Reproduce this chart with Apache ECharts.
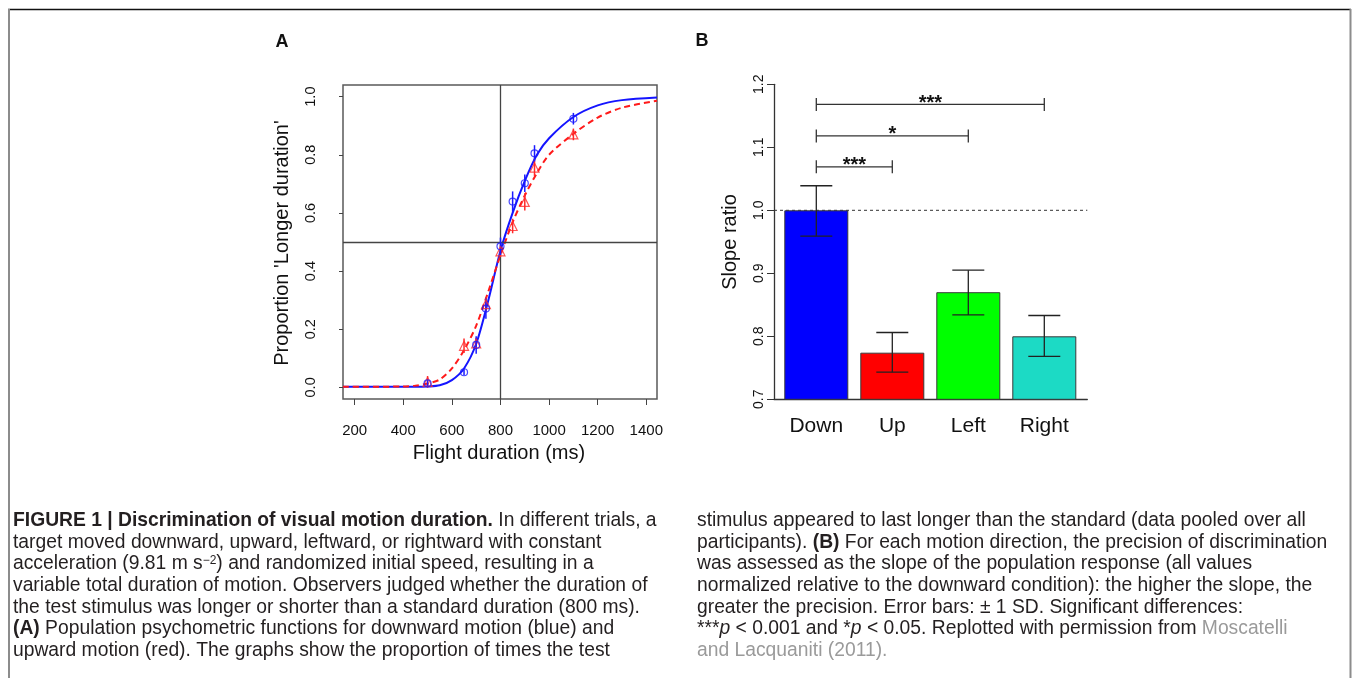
<!DOCTYPE html>
<html>
<head>
<meta charset="utf-8">
<title>Figure 1</title>
<script src="https://cdn.jsdelivr.net/npm/echarts@6.0.0/dist/echarts.min.js"></script>
<style>
  html, body { margin: 0; padding: 0; background: #fff; }
  #fig { width: 1352px; height: 678px; }
</style>
</head>
<body>
<div id="fig"></div>
<script>
// ---- panel A data ----
var durations = [500, 650, 700, 740, 800, 850, 900, 940, 1100];
var downProp = [0.014, 0.052, 0.146, 0.271, 0.485, 0.639, 0.702, 0.805, 0.924];
var downErr = [0.01, 0.01, 0.03, 0.035, 0.03, 0.035, 0.03, 0.028, 0.02];
var upProp = [0.019, 0.143, 0.151, 0.286, 0.468, 0.555, 0.638, 0.756, 0.870];
var upErr = [0.02, 0.025, 0.02, 0.025, 0.02, 0.025, 0.03, 0.03, 0.02];

// fitted curves
var fitX = [152, 400, 450, 500, 550, 600, 650, 700, 750, 800, 850, 900, 950, 1000, 1100, 1200, 1300, 1444];
var downFit = [0.002, 0.002, 0.002, 0.003, 0.007, 0.025, 0.065, 0.15, 0.30, 0.47, 0.60, 0.71, 0.80, 0.857, 0.930, 0.970, 0.988, 0.997];
var upFit = [0.002, 0.003, 0.006, 0.013, 0.027, 0.065, 0.128, 0.212, 0.33, 0.455, 0.568, 0.66, 0.737, 0.80, 0.872, 0.928, 0.962, 0.986];

var xTicksA = [200, 400, 600, 800, 1000, 1200, 1400];
var yTicksA = [0, 0.2, 0.4, 0.6, 0.8, 1.0];

// ---- panel B data ----
var directions = ['Down', 'Up', 'Left', 'Right'];
var slopeRatio = [1.0, 0.774, 0.870, 0.800];
var slopeLow = [0.959, 0.743, 0.834, 0.768];
var slopeHigh = [1.039, 0.806, 0.905, 0.833];
var barColors = ['#0000ff', '#ff0000', '#00ff00', '#1cdac5'];
// [from, to, y, label]
var signif = [[0, 1, 1.069, '***'], [0, 2, 1.118, '*'], [0, 3, 1.168, '***']];

var FONT = 'Liberation Sans, Arial, Helvetica, sans-serif';
var CAP_FONT = 'Liberation Sans, Arial, Helvetica, sans-serif';
var CAP_SIZE = 19.3;

var capLeft = [
  '{b|FIGURE 1 | Discrimination of visual motion duration.} In different trials, a',
  'target moved downward, upward, leftward, or rightward with constant',
  'acceleration (9.81 m s{sup|\u22122}) and randomized initial speed, resulting in a',
  'variable total duration of motion. Observers judged whether the duration of',
  'the test stimulus was longer or shorter than a standard duration (800 ms).',
  '{b|(A)} Population psychometric functions for downward motion (blue) and',
  'upward motion (red). The graphs show the proportion of times the test'
];
var capRight = [
  'stimulus appeared to last longer than the standard (data pooled over all',
  'participants). {b|(B)} For each motion direction, the precision of discrimination',
  'was assessed as the slope of the population response (all values',
  'normalized relative to the downward condition): the higher the slope, the',
  'greater the precision. Error bars: \u00b1 1 SD. Significant differences:',
  '***{i|p} < 0.001 and *{i|p} < 0.05. Replotted with permission from {g|Moscatelli}',
  '{g|and Lacquaniti (2011).}'
];
var capY = [521, 543, 564, 586, 608, 629, 651];

var myChart = echarts.init(document.getElementById('fig'));

function pointErr(xs, ys, es) {
  return xs.map(function (x, i) { return [x, ys[i] - es[i], ys[i] + es[i]]; });
}
function zip(xs, ys) {
  return xs.map(function (x, i) { return [x, ys[i]]; });
}

function vErrA(color) {
  return function (params, api) {
    var a = api.coord([api.value(0), api.value(1)]);
    var b = api.coord([api.value(0), api.value(2)]);
    return {
      type: 'line',
      shape: { x1: a[0], y1: a[1], x2: b[0], y2: b[1] },
      style: { stroke: color, lineWidth: 1.5 }
    };
  };
}

var captionEls = [];
function capStyle(text) {
  return {
    text: text,
    fill: '#231f20',
    fontSize: CAP_SIZE,
    fontFamily: CAP_FONT,
    verticalAlign: 'middle',
    rich: {
      b: { fontWeight: 'bold', fontSize: CAP_SIZE, fontFamily: CAP_FONT, fill: '#231f20' },
      i: { fontStyle: 'italic', fontSize: CAP_SIZE, fontFamily: CAP_FONT, fill: '#231f20' },
      g: { fontSize: CAP_SIZE, fontFamily: CAP_FONT, fill: '#9a9a9a' },
      sup: { fontSize: 12, fontFamily: CAP_FONT, fill: '#231f20', verticalAlign: 'top' }
    }
  };
}
capLeft.forEach(function (t, i) {
  captionEls.push({ type: 'text', x: 13, y: capY[i], style: capStyle(t) });
});
capRight.forEach(function (t, i) {
  captionEls.push({ type: 'text', x: 697, y: capY[i], style: capStyle(t) });
});

var option = {
  animation: false,
  backgroundColor: '#fff',
  textStyle: { fontFamily: FONT },
  grid: [
    // A
    { left: 343, top: 85, width: 314, height: 314, show: true, borderColor: '#5a5a5a', borderWidth: 1.5 },
    // B frame (axes)
    { left: 774, top: 84.3, width: 313.3, height: 315 },
    // B bars
    { left: 778.3, top: 84.3, width: 304, height: 315 }
  ],
  xAxis: [
    {
      gridIndex: 0, type: 'value', min: 152, max: 1444,
      axisLine: { show: false, onZero: false },
      axisTick: { show: true, length: 6, customValues: xTicksA, lineStyle: { color: '#444' } },
      axisLabel: {
        customValues: xTicksA, margin: 24, fontSize: 15, color: '#111', fontFamily: FONT,
        formatter: function (v) { return String(v); }
      },
      splitLine: { show: false }
    },
    {
      gridIndex: 1, type: 'value', min: 0, max: 1,
      axisLine: { show: true, onZero: false, lineStyle: { color: '#333', width: 1.3 } },
      axisTick: { show: false }, axisLabel: { show: false }, splitLine: { show: false }
    },
    {
      gridIndex: 2, type: 'category', data: directions,
      axisLine: { show: false }, axisTick: { show: false },
      axisLabel: { margin: 16, fontSize: 21, color: '#111', fontFamily: FONT }
    }
  ],
  yAxis: [
    {
      gridIndex: 0, type: 'value', min: -0.04, max: 1.04,
      axisLine: { show: false, onZero: false },
      axisTick: { show: true, length: 4, customValues: yTicksA, lineStyle: { color: '#444' } },
      axisLabel: {
        customValues: yTicksA, rotate: 90, margin: 25, fontSize: 14.5, color: '#111', fontFamily: FONT,
        formatter: function (v) { return v.toFixed(1); }
      },
      splitLine: { show: false }
    },
    {
      gridIndex: 1, type: 'value', min: 0.7, max: 1.2, interval: 0.1,
      axisLine: { show: true, onZero: false, lineStyle: { color: '#333', width: 1.3 } },
      axisTick: { show: true, length: 7, lineStyle: { color: '#333' } },
      axisLabel: {
        rotate: 90, margin: 8, fontSize: 14, color: '#111', fontFamily: FONT,
        formatter: function (v) { return v.toFixed(1); }
      },
      splitLine: { show: false }
    },
    { gridIndex: 2, type: 'value', min: 0.7, max: 1.2, show: false }
  ],
  graphic: [
    // figure frame
    { type: 'line', shape: { x1: 8, y1: 9.5, x2: 1351, y2: 9.5 }, style: { stroke: '#111', lineWidth: 1.5 } },
    { type: 'line', shape: { x1: 9, y1: 9, x2: 9, y2: 678 }, style: { stroke: '#8c8c8c', lineWidth: 2 } },
    { type: 'line', shape: { x1: 1350.5, y1: 9, x2: 1350.5, y2: 678 }, style: { stroke: '#8c8c8c', lineWidth: 2 } },
    // panel letters
    { type: 'text', x: 282, y: 42, style: { text: 'A', fontSize: 18, fontWeight: 'bold', fontFamily: FONT, fill: '#111', align: 'center', verticalAlign: 'middle' } },
    { type: 'text', x: 702, y: 41, style: { text: 'B', fontSize: 18, fontWeight: 'bold', fontFamily: FONT, fill: '#111', align: 'center', verticalAlign: 'middle' } },
    // axis titles
    { type: 'text', x: 282, y: 243, rotation: Math.PI / 2, style: { text: "Proportion 'Longer duration'", fontSize: 20, fontFamily: FONT, fill: '#111', align: 'center', verticalAlign: 'middle' } },
    { type: 'text', x: 499, y: 453, style: { text: 'Flight duration (ms)', fontSize: 20, fontFamily: FONT, fill: '#111', align: 'center', verticalAlign: 'middle' } },
    { type: 'text', x: 730, y: 242, rotation: Math.PI / 2, style: { text: 'Slope ratio', fontSize: 20, fontFamily: FONT, fill: '#111', align: 'center', verticalAlign: 'middle' } }
  ].concat(captionEls),
  series: [
    // reference lines in A
    {
      type: 'line', xAxisIndex: 0, yAxisIndex: 0, data: [], silent: true,
      markLine: {
        symbol: 'none', silent: true, label: { show: false },
        lineStyle: { color: '#444', width: 1.3, type: 'solid' },
        data: [{ xAxis: 800 }, { yAxis: 0.5 }]
      }
    },
    {
      name: 'Down fit', type: 'line', xAxisIndex: 0, yAxisIndex: 0, smooth: 0.3,
      showSymbol: false, data: zip(fitX, downFit),
      lineStyle: { color: '#1414ff', width: 2 }, z: 3
    },
    {
      name: 'Up fit', type: 'line', xAxisIndex: 0, yAxisIndex: 0, smooth: 0.3,
      showSymbol: false, data: zip(fitX, upFit),
      lineStyle: { color: '#ff1a1a', width: 2, type: [6, 4] }, z: 4
    },
    {
      type: 'custom', xAxisIndex: 0, yAxisIndex: 0, z: 5,
      data: pointErr(durations, upProp, upErr), renderItem: vErrA('#ff2a2a')
    },
    {
      type: 'custom', xAxisIndex: 0, yAxisIndex: 0, z: 6,
      data: pointErr(durations, downProp, downErr), renderItem: vErrA('#1a1aff')
    },
    {
      name: 'Up', type: 'scatter', xAxisIndex: 0, yAxisIndex: 0, z: 7,
      data: zip(durations, upProp), symbol: 'triangle', symbolSize: 9,
      itemStyle: { color: 'rgba(0,0,0,0)', borderColor: '#ff2a2a', borderWidth: 1.2 }
    },
    {
      name: 'Down', type: 'scatter', xAxisIndex: 0, yAxisIndex: 0, z: 8,
      data: zip(durations, downProp), symbol: 'circle', symbolSize: 7,
      itemStyle: { color: 'rgba(0,0,0,0)', borderColor: '#1a1aff', borderWidth: 1.2 }
    },
    // reference line at 1.0 in B
    {
      type: 'line', xAxisIndex: 1, yAxisIndex: 1, data: [[0, 1], [1, 1]], showSymbol: false,
      lineStyle: { color: '#333', width: 1, type: [3, 3] }, z: 1, silent: true
    },
    {
      type: 'bar', xAxisIndex: 2, yAxisIndex: 2, barWidth: 64, z: 2,
      data: slopeRatio.map(function (v, i) {
        return { value: v, itemStyle: { color: barColors[i] } };
      }),
      itemStyle: { borderColor: '#3a3a3a', borderWidth: 1 }
    },
    {
      type: 'custom', xAxisIndex: 2, yAxisIndex: 2, z: 4,
      data: directions.map(function (d, i) { return [i, slopeLow[i], slopeHigh[i]]; }),
      renderItem: function (params, api) {
        var lo = api.coord([api.value(0), api.value(1)]);
        var hi = api.coord([api.value(0), api.value(2)]);
        var w = 16, st = { stroke: '#222', lineWidth: 1.3 };
        return {
          type: 'group', children: [
            { type: 'line', shape: { x1: lo[0], y1: lo[1], x2: hi[0], y2: hi[1] }, style: st },
            { type: 'line', shape: { x1: lo[0] - w, y1: lo[1], x2: lo[0] + w, y2: lo[1] }, style: st },
            { type: 'line', shape: { x1: hi[0] - w, y1: hi[1], x2: hi[0] + w, y2: hi[1] }, style: st }
          ]
        };
      }
    },
    {
      type: 'custom', xAxisIndex: 2, yAxisIndex: 2, z: 4,
      data: signif,
      renderItem: function (params, api) {
        var s = signif[params.dataIndex];
        var a = api.coord([s[0], s[2]]);
        var b = api.coord([s[1], s[2]]);
        var h = 6.5, st = { stroke: '#333', lineWidth: 1.3 };
        return {
          type: 'group', children: [
            { type: 'line', shape: { x1: a[0], y1: a[1], x2: b[0], y2: b[1] }, style: st },
            { type: 'line', shape: { x1: a[0], y1: a[1] - h, x2: a[0], y2: a[1] + h }, style: st },
            { type: 'line', shape: { x1: b[0], y1: b[1] - h, x2: b[0], y2: b[1] + h }, style: st },
            {
              type: 'text', x: (a[0] + b[0]) / 2, y: a[1] - 1,
              style: {
                text: s[3], fill: '#111', fontSize: 20, fontWeight: 'bold', fontFamily: FONT,
                align: 'center', verticalAlign: 'middle', textAlign: 'center', textVerticalAlign: 'middle'
              }
            }
          ]
        };
      }
    }
  ]
};

option && myChart.setOption(option);
</script>
</body>
</html>
